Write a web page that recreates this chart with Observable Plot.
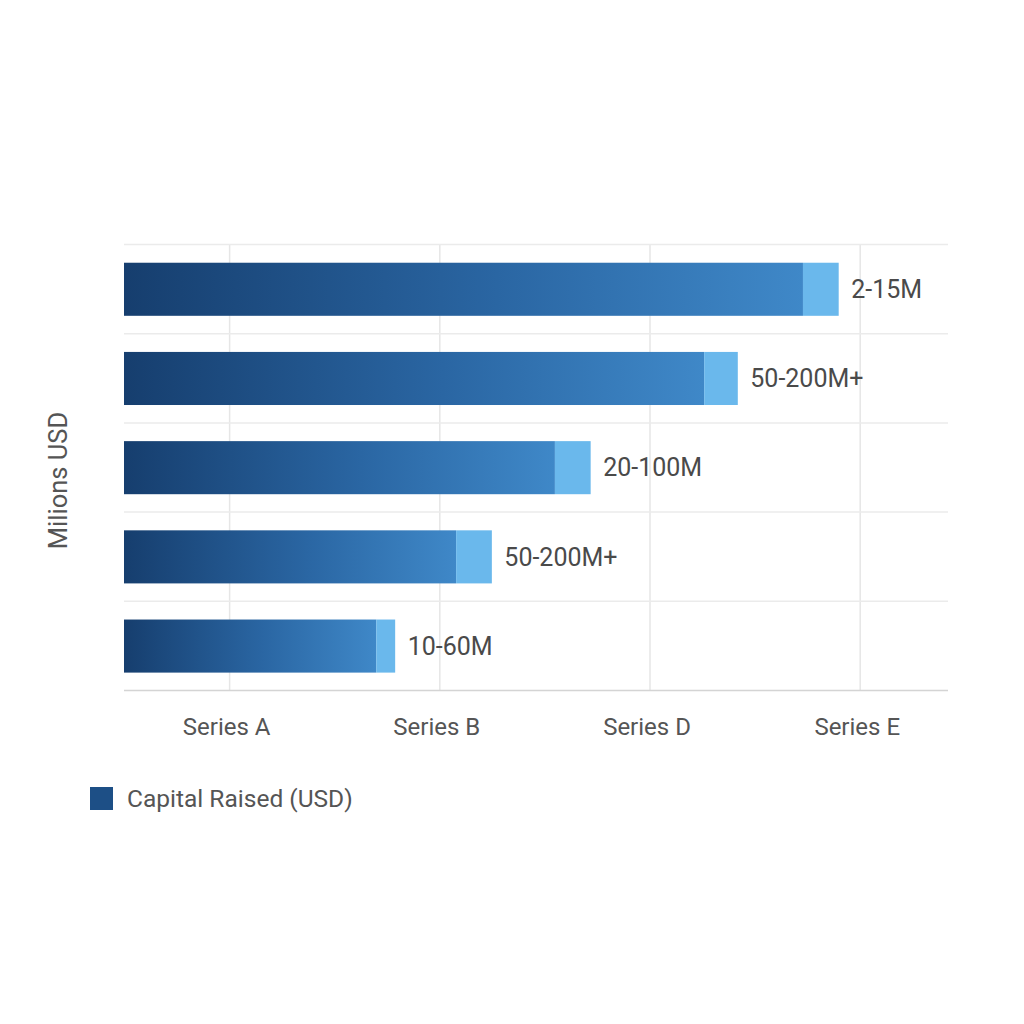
<!DOCTYPE html>
<html>
<head>
<meta charset="utf-8">
<script src="https://cdn.jsdelivr.net/npm/d3@7"></script>
<script src="https://cdn.jsdelivr.net/npm/@observablehq/plot@0.6"></script>
<style>
  html, body { margin: 0; padding: 0; background: #ffffff; }
  body { width: 1024px; height: 1024px; overflow: hidden; font-family: Roboto, "Noto Sans", sans-serif; }
  #chart svg { display: block; }
  #legend { display: flex; align-items: center; margin-left: 90px; margin-top: 14px; font-size: 24.5px; color: #555555; }
  #legend .sw { width: 23px; height: 23px; background: #1d4f86; margin-right: 14px; }
</style>
</head>
<body>
<div id="chart"></div>
<div id="legend"><div class="sw"></div><span id="legendText"></span></div>
<script>
// Data (top row first)
const rangeLabels = ["2-15M", "50-200M+", "20-100M", "50-200M+", "10-60M"];
const baseValues = [323, 276, 205, 158, 120];
const totalValues = [340, 292, 222, 175, 129];
const xTickValues = [50, 150, 250, 350];
const xTickLabels = ["Series A", "Series B", "Series D", "Series E"];
const yTitle = "Milions USD";
const legendLabel = "Capital Raised (USD)";

document.getElementById("legendText").textContent = legendLabel;

const rows = rangeLabels.map((label, i) => ({
  i, label, base: baseValues[i], total: totalValues[i]
}));
const tickLabel = new Map(xTickValues.map((v, k) => [v, xTickLabels[k]]));

const defs = () => {
  const g = d3.create("svg:defs");
  const lg = g.append("linearGradient").attr("id", "barGrad")
    .attr("x1", "0").attr("x2", "1").attr("y1", "0").attr("y2", "0");
  lg.append("stop").attr("offset", "0%").attr("stop-color", "#163e6e");
  lg.append("stop").attr("offset", "55%").attr("stop-color", "#2a66a3");
  lg.append("stop").attr("offset", "100%").attr("stop-color", "#3f88c8");
  return g.node();
};

const chart = Plot.plot({
  width: 1024,
  height: 770,
  marginTop: 244,
  marginBottom: 80,
  marginLeft: 124,
  marginRight: 76,
  style: { fontFamily: "Roboto, 'Noto Sans', sans-serif", background: "transparent" },
  x: { domain: [0, 392], axis: null },
  y: { domain: [0, 5], reverse: true, axis: null },
  marks: [
    defs,
    Plot.gridX(xTickValues, { stroke: "#e6e6e6", strokeOpacity: 1, strokeWidth: 1.5 }),
    Plot.ruleY([0, 1, 2, 3, 4], { stroke: "#ebebeb", strokeWidth: 1.5 }),
    Plot.ruleY([5], { stroke: "#d4d4d4", strokeWidth: 1.5 }),
    Plot.rectX(rows, { x1: 0, x2: "base", y1: d => d.i + 0.21, y2: d => d.i + 0.805, fill: "url(#barGrad)" }),
    Plot.rectX(rows, { x1: "base", x2: "total", y1: d => d.i + 0.21, y2: d => d.i + 0.805, fill: "#6ab8ec" }),
    Plot.text(rows, { x: "total", y: d => d.i + 0.51, text: "label", textAnchor: "start", dx: 12, fontSize: 25, fill: "#4a4a4a" }),
    Plot.axisX(xTickValues, { tickFormat: d => tickLabel.get(d), tickSize: 0, tickPadding: 27, fontSize: 24, color: "#555555", dx: -3 }),
    Plot.text([yTitle], { frameAnchor: "left", textAnchor: "middle", dx: -66, dy: 13, rotate: -90, fontSize: 25.5, fill: "#555555" })
  ]
});
document.getElementById("chart").appendChild(chart);
</script>
</body>
</html>
